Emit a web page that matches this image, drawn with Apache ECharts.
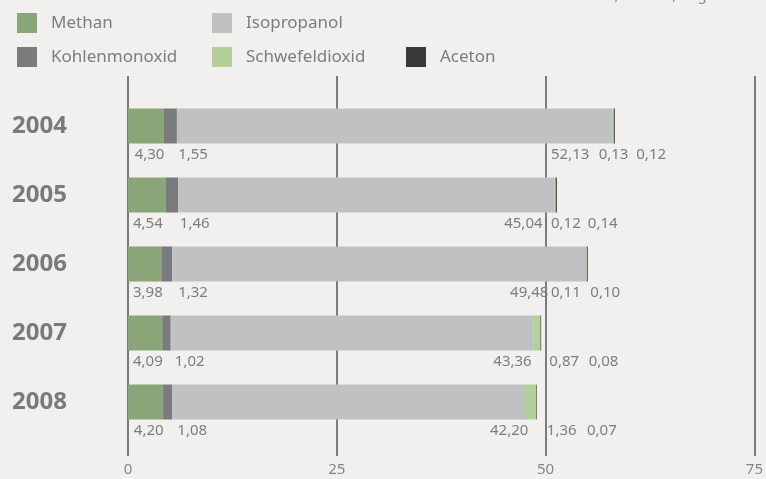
<!DOCTYPE html>
<html>
<head>
<meta charset="utf-8">
<script src="https://cdn.jsdelivr.net/npm/echarts@6/dist/echarts.min.js"></script>
<style>
  html, body { margin: 0; padding: 0; background: #f1f0ef; }
  #chart { width: 766px; height: 479px; }
</style>
</head>
<body>
<div id="chart"></div>
<script>
// data
const years = ["2004", "2005", "2006", "2007", "2008"];
const methan = [4.30, 4.54, 3.98, 4.09, 4.20];
const kohlenmonoxid = [1.55, 1.46, 1.32, 1.02, 1.08];
const isopropanol = [52.13, 45.04, 49.48, 43.36, 42.20];
const schwefeldioxid = [0.13, 0.12, 0.11, 0.87, 1.36];
const aceton = [0.12, 0.14, 0.10, 0.08, 0.07];
const xTicks = [0, 25, 50, 75];

// where each value label starts (axis units), per year, in stack order
const labelX = [
    [0.8, 6.0, 50.6, 56.3, 60.8],
    [0.6, 6.2, 45.0, 50.6, 55.0],
    [0.6, 6.0, 45.7, 50.6, 55.3],
    [0.6, 5.6, 43.7, 50.4, 55.1],
    [0.7, 5.9, 43.3, 50.1, 54.9]
];

const stackOrder = [
    { name: "Methan", data: methan, color: "#8aa578" },
    { name: "Kohlenmonoxid", data: kohlenmonoxid, color: "#7a7b7d" },
    { name: "Isopropanol", data: isopropanol, color: "#c0c1c3" },
    { name: "Schwefeldioxid", data: schwefeldioxid, color: "#b3cf9a" },
    { name: "Aceton", data: aceton, color: "#3a3a3a" }
];

const fontFamily = "'Noto Sans', 'Open Sans', sans-serif";
const textColor = "#7d7d7d";
const fmt = v => v.toFixed(2).replace(".", ",");

const legendBase = {
    orient: "vertical",
    itemWidth: 20,
    itemHeight: 20,
    itemGap: 14,
    icon: "rect",
    textStyle: {
        fontFamily: fontFamily,
        fontSize: 17,
        color: textColor,
        padding: [0, 0, 0, 9]
    }
};

let myChart = echarts.init(document.getElementById("chart"));
myChart.setOption({
    backgroundColor: "#f1f0ef",
    animation: false,
    textStyle: { fontFamily: fontFamily },
    graphic: [
        {
            type: "text",
            right: 14,
            top: -12,
            style: {
                text: "2008: 48,9%  ~  0,85 g/100m",
                fontFamily: fontFamily,
                fontSize: 15,
                fill: "#8a8a8a"
            }
        }
    ],
    legend: [
        Object.assign({}, legendBase, {
            left: 12,
            top: 8,
            data: ["Methan", "Kohlenmonoxid"]
        }),
        Object.assign({}, legendBase, {
            left: 207,
            top: 8,
            data: ["Isopropanol", "Schwefeldioxid"]
        }),
        Object.assign({}, legendBase, {
            left: 401,
            top: 42,
            data: ["Aceton"]
        })
    ],
    grid: [
        { left: 128, right: 11, top: 91.5, bottom: 42.5 },
        { left: 128, right: 11, top: 76, bottom: 23 }
    ],
    xAxis: [
        {
            gridIndex: 0,
            type: "value",
            min: 0,
            max: 75,
            show: false
        },
        {
            gridIndex: 1,
            type: "value",
            min: 0,
            max: 75,
            interval: 25,
            axisLine: { show: false },
            axisTick: { show: false },
            axisLabel: {
                margin: 6,
                fontSize: 15,
                color: "#858585",
                formatter: v => (xTicks.indexOf(v) >= 0 ? String(v) : "")
            },
            splitLine: {
                show: true,
                lineStyle: { color: "#7b7b7b", width: 2 }
            }
        }
    ],
    yAxis: [
        {
            gridIndex: 0,
            type: "category",
            inverse: true,
            data: years,
            axisLine: { show: false },
            axisTick: { show: false },
            axisLabel: {
                align: "left",
                margin: 116,
                fontSize: 24,
                fontWeight: "bold",
                color: "#7a7a7a",
                padding: [3, 0, 0, 0]
            }
        },
        {
            gridIndex: 1,
            type: "value",
            show: false
        }
    ],
    series: stackOrder
        .map(s => ({
            name: s.name,
            type: "bar",
            stack: "total",
            xAxisIndex: 0,
            yAxisIndex: 0,
            barWidth: 35,
            itemStyle: { color: s.color },
            data: s.data
        }))
        .concat([
            {
                type: "custom",
                xAxisIndex: 0,
                yAxisIndex: 0,
                silent: true,
                data: years.map((y, i) => [i]),
                renderItem: (params, api) => {
                    const i = api.value(0);
                    const center = api.coord([0, i]);
                    return {
                        type: "group",
                        children: stackOrder.map((s, k) => ({
                            type: "text",
                            x: api.coord([labelX[i][k], i])[0],
                            y: center[1] + 29,
                            style: {
                                text: fmt(s.data[i]),
                                fontFamily: fontFamily,
                                fontSize: 15,
                                fill: textColor,
                                align: "left",
                                verticalAlign: "middle"
                            }
                        }))
                    };
                }
            }
        ])
});
</script>
</body>
</html>
